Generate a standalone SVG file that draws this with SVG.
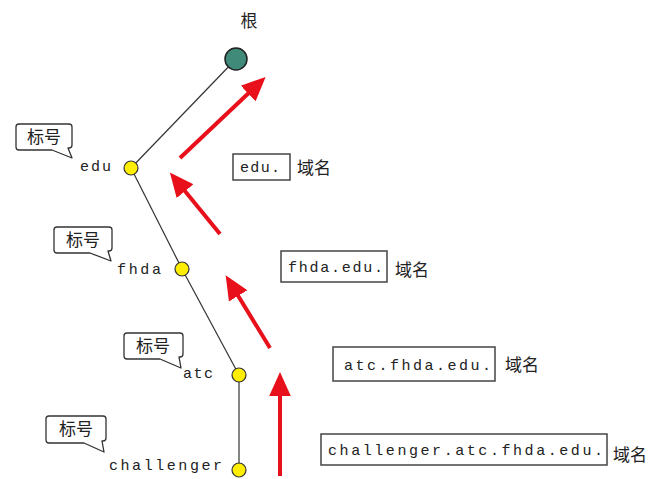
<svg xmlns="http://www.w3.org/2000/svg" width="654" height="479" viewBox="0 0 654 479">
  <style>
    .edge { stroke: #333; stroke-width: 1.2; fill: none; }
    .node { fill: #ffee00; stroke: #333; stroke-width: 1.2; }
    .root { fill: #3f8a78; stroke: #222; stroke-width: 1.5; }
    .lbl { font-family: "Liberation Mono", monospace; font-size: 15px; fill: #222; }
    .cjk { font-family: "Noto Sans CJK SC", sans-serif; font-size: 17px; fill: #222; }
    .box { fill: #fff; stroke: #444; stroke-width: 1.5; }
    .callout { fill: #fff; stroke: #333; stroke-width: 1.3; stroke-linejoin: round; }
    .arrow { stroke: #e8101a; stroke-width: 4; fill: none; marker-end: url(#head); }
  </style>
  <defs>
    <marker id="head" markerWidth="6" markerHeight="6" refX="2" refY="3" orient="auto" markerUnits="strokeWidth">
      <path d="M0,0.3 L6,3 L0,5.7 Z" fill="#e8101a"/>
    </marker>
  </defs>

  <!-- tree edges and red direction arrows -->
  <g id="connectors">
    <line class="edge" x1="236" y1="59" x2="131" y2="168"/>
    <line class="edge" x1="131" y1="168" x2="182" y2="269"/>
    <line class="edge" x1="182" y1="269" x2="239" y2="375"/>
    <line class="edge" x1="239" y1="375" x2="239" y2="470"/>
    <line class="arrow" x1="180" y1="158" x2="254" y2="88"/>
    <line class="arrow" x1="220" y1="234" x2="180" y2="185"/>
    <line class="arrow" x1="270" y1="348" x2="234" y2="289"/>
    <line class="arrow" x1="280" y1="476" x2="280" y2="388"/>
  </g>

  <g id="root">
    <text class="cjk" x="249" y="27" text-anchor="middle">根</text>
    <circle class="root" cx="236" cy="59" r="11"/>
  </g>

  <g id="edu">
    <path class="callout" d="M19,124 H69 Q72,124 72,127 V145 Q72,148 69,148 H68 L72,158 L52,150 H19 Q16,150 16,147 V127 Q16,124 19,124 Z"/>
    <text class="cjk" x="44" y="143" text-anchor="middle">标号</text>
    <text class="lbl" x="80" y="171" textLength="31">edu</text>
    <circle class="node" cx="131" cy="168" r="7"/>
  </g>

  <g id="fhda">
    <path class="callout" d="M57,227 H109 Q112,227 112,230 V248 Q112,251 109,251 H108 L111,261 L90,253 H57 Q54,253 54,250 V230 Q54,227 57,227 Z"/>
    <text class="cjk" x="83" y="246" text-anchor="middle">标号</text>
    <text class="lbl" x="117" y="274" textLength="44">fhda</text>
    <circle class="node" cx="182" cy="269" r="7"/>
  </g>

  <g id="atc">
    <path class="callout" d="M127,333 H180 Q183,333 183,336 V354 Q183,357 180,357 H179 L181,368 L160,359 H127 Q124,359 124,356 V336 Q124,333 127,333 Z"/>
    <text class="cjk" x="153" y="352" text-anchor="middle">标号</text>
    <text class="lbl" x="183" y="378" textLength="30">atc</text>
    <circle class="node" cx="239" cy="375" r="7"/>
  </g>

  <g id="challenger">
    <path class="callout" d="M49,416 H103 Q106,416 106,419 V438 Q106,441 103,441 H102 L104,452 L84,443 H49 Q46,443 46,440 V419 Q46,416 49,416 Z"/>
    <text class="cjk" x="76" y="435" text-anchor="middle">标号</text>
    <text class="lbl" x="109" y="470" textLength="113">challenger</text>
    <circle class="node" cx="239" cy="470" r="7"/>
  </g>

  <g id="name-edu">
    <rect class="box" x="233" y="154" width="57" height="26"/>
    <text class="lbl" x="240" y="172" textLength="40">edu.</text>
    <text class="cjk" x="297" y="174">域名</text>
  </g>

  <g id="name-fhda">
    <rect class="box" x="281" y="251" width="106" height="31"/>
    <text class="lbl" x="288" y="272" textLength="95">fhda.edu.</text>
    <text class="cjk" x="395" y="276">域名</text>
  </g>

  <g id="name-atc">
    <rect class="box" x="333" y="347" width="162" height="34"/>
    <text class="lbl" x="344" y="370" textLength="147">atc.fhda.edu.</text>
    <text class="cjk" x="505" y="371">域名</text>
  </g>

  <g id="name-challenger">
    <rect class="box" x="321" y="434" width="286" height="31"/>
    <text class="lbl" x="328" y="455" textLength="275">challenger.atc.fhda.edu.</text>
    <text class="cjk" x="613" y="461">域名</text>
  </g>
</svg>
